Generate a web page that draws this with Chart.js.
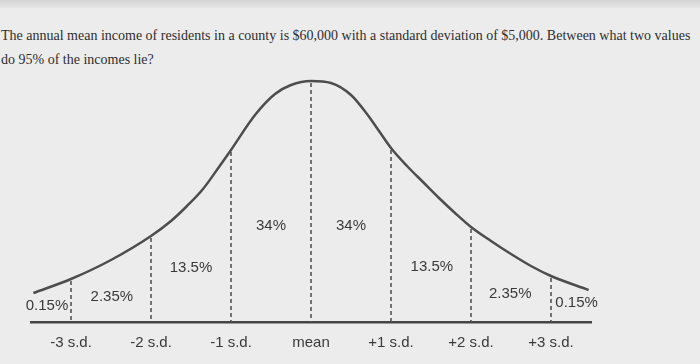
<!DOCTYPE html>
<html>
<head>
<meta charset="utf-8">
<script src="https://cdn.jsdelivr.net/npm/chart.js@4.4.1/dist/chart.umd.min.js"></script>
<style>
  html, body { margin: 0; padding: 0; }
  body { width: 700px; height: 364px; background: #ececec; position: relative; overflow: hidden; }
  .strip { position: absolute; left: 0; top: 0; width: 700px; height: 8px; background: linear-gradient(#d4d4d4, #e6e6e6); }
  .question {
    position: absolute; left: 1px; top: 24px;
    font-family: "Liberation Serif", "Times New Roman", serif;
    font-size: 14px; line-height: 24px; color: #2e2e2e; white-space: nowrap;
  }
  canvas { position: absolute; left: 0; top: 0; }
</style>
</head>
<body>
<div class="strip"></div>
<div class="question">The annual mean income of residents in a county is $60,000 with a standard deviation of $5,000. Between what two values<br>do 95% of the incomes lie?</div>
<canvas id="bell" width="700" height="364"></canvas>
<script>
// positions along the axis (in s.d.) and their labels
const sdTicks = [-3, -2, -1, 0, 1, 2, 3];
const sdLabels = ['-3 s.d.', '-2 s.d.', '-1 s.d.', 'mean', '+1 s.d.', '+2 s.d.', '+3 s.d.'];

// curve: x in s.d., height above the axis
const curveX = [-3.47, -3, -2.5, -2, -1.75, -1.55, -1.35, -1.15, -1, -0.7, -0.45, -0.25, 0, 0.25, 0.5, 0.7, 0.85, 1, 1.2, 1.4, 1.6, 1.8, 2, 2.25, 2.5, 2.75, 3, 3.47];
const curveY = [29, 43, 62, 86, 101, 116, 133, 155, 172, 207, 228, 237, 241, 239, 227, 208, 191, 174, 156, 140, 124, 109, 95, 81, 68, 56, 46, 32];

// area percentages, left to right
const pctLabels = ['0.15%', '2.35%', '13.5%', '34%', '34%', '13.5%', '2.35%', '0.15%'];

const textColor = '#3a3a3a';
const labelFont = '15px "Liberation Sans", Arial, sans-serif';

const markers = {
    id: 'markers',
    beforeDatasetsDraw(chart) {
        const { ctx, scales: { x, y } } = chart;
        ctx.save();
        ctx.strokeStyle = '#555';
        ctx.lineWidth = 1.6;
        ctx.setLineDash([4, 3]);
        sdTicks.forEach(t => {
            const i = curveX.indexOf(t);
            const px = x.getPixelForValue(t);
            ctx.beginPath();
            ctx.moveTo(px, y.getPixelForValue(curveY[i]) + 2);
            ctx.lineTo(px, y.getPixelForValue(0));
            ctx.stroke();
        });
        ctx.restore();
    },
    afterDatasetsDraw(chart) {
        const { ctx, scales: { x, y } } = chart;
        // label spots: [x in s.d., height above axis]
        const spots = [[-3.3, 16], [-2.49, 25], [-1.5, 54], [-0.5, 96], [0.5, 96], [1.51, 55], [2.49, 28], [3.32, 19]];
        ctx.save();
        ctx.font = labelFont;
        ctx.fillStyle = textColor;
        ctx.textAlign = 'center';
        ctx.textBaseline = 'middle';
        pctLabels.forEach((lbl, i) => {
            ctx.fillText(lbl, x.getPixelForValue(spots[i][0]), y.getPixelForValue(spots[i][1]));
        });
        ctx.restore();
    }
};

new Chart(document.getElementById('bell').getContext('2d'), {
    type: 'line',
    data: {
        datasets: [{
            data: curveX.map((v, i) => ({ x: v, y: curveY[i] })),
            borderColor: '#4d4d4d',
            borderWidth: 2.5,
            pointRadius: 0,
            fill: false,
            cubicInterpolationMode: 'monotone'
        }]
    },
    options: {
        responsive: false,
        animation: false,
        layout: { padding: { left: 31, right: 109, top: 62, bottom: 12 } },
        plugins: { legend: { display: false }, tooltip: { enabled: false } },
        scales: {
            x: {
                type: 'linear',
                min: -3.5,
                max: 3.5,
                afterBuildTicks: axis => { axis.ticks = sdTicks.map(v => ({ value: v })); },
                afterFit: axis => { axis.height = 30; },
                grid: { display: false },
                border: { display: true, color: '#444', width: 2.5 },
                ticks: {
                    autoSkip: false,
                    maxRotation: 0,
                    padding: 4,
                    color: textColor,
                    font: { family: '"Liberation Sans", Arial, sans-serif', size: 15 },
                    callback: v => sdLabels[sdTicks.indexOf(v)]
                }
            },
            y: { display: false, min: 0, max: 260 }
        }
    },
    plugins: [markers]
});
</script>
</body>
</html>
